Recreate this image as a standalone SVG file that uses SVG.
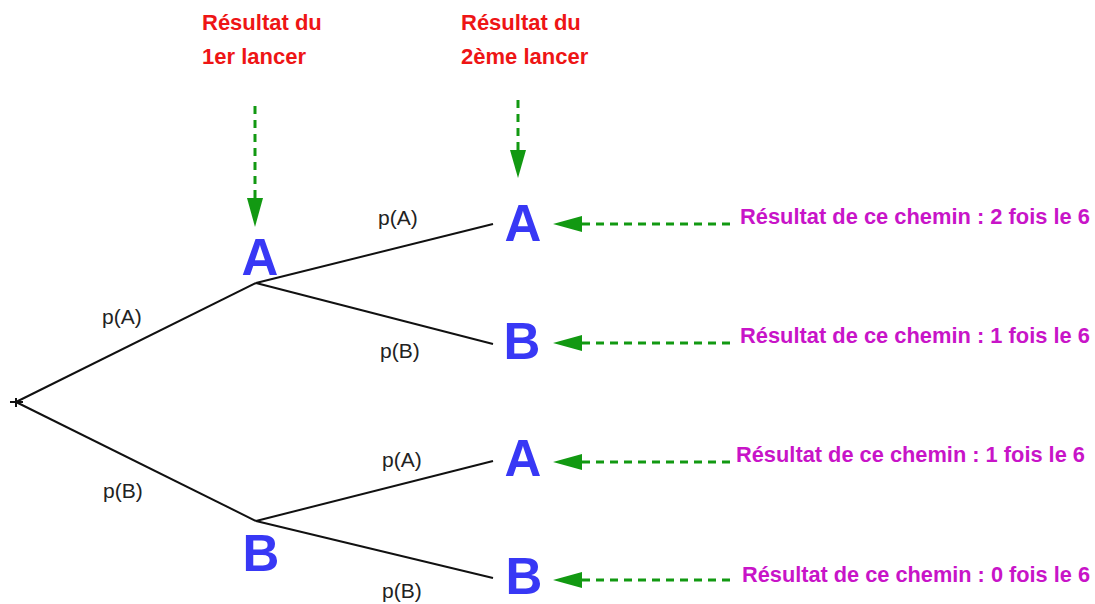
<svg xmlns="http://www.w3.org/2000/svg" width="1095" height="604" viewBox="0 0 1095 604">
<defs>
<style>
.edge{stroke:#111;stroke-width:2;fill:none}
.hint{stroke:#129912;stroke-width:3;stroke-dasharray:8 6;fill:none}
.node{font-family:"Liberation Sans",Arial,sans-serif;font-weight:bold;font-size:51px;fill:#3838f5;text-anchor:middle}
.title{font-family:"Liberation Sans",Arial,sans-serif;font-weight:bold;font-size:22px;fill:#ee1515}
.res{font-family:"Liberation Sans",Arial,sans-serif;font-weight:bold;font-size:21.5px;fill:#c814c8}
.prob{font-family:"Liberation Sans",Arial,sans-serif;font-size:21px;fill:#222}
</style>
</defs>
<rect width="1095" height="604" fill="#fff"/>

<g id="connectors">
<path class="edge" d="M10,402 H23 M16,398 V407"/>
<line class="edge" x1="16" y1="402" x2="256" y2="283"/>
<line class="edge" x1="16" y1="402" x2="256" y2="521"/>
<line class="edge" x1="256" y1="283" x2="493" y2="224"/>
<line class="edge" x1="256" y1="283" x2="493" y2="344"/>
<line class="edge" x1="256" y1="521" x2="493" y2="461"/>
<line class="edge" x1="256" y1="521" x2="493" y2="578"/>
<text class="prob" x="102" y="324">p(A)</text>
<text class="prob" x="103" y="498">p(B)</text>
<text class="prob" x="378" y="225">p(A)</text>
<text class="prob" x="380" y="358">p(B)</text>
<text class="prob" x="382" y="467">p(A)</text>
<text class="prob" x="382" y="598">p(B)</text>
</g>

<g id="hints">
<line class="hint" x1="255" y1="106" x2="255" y2="198"/>
<path d="M247,198 L263,198 L255,227 Z" fill="#129912"/>
<line class="hint" x1="518" y1="100" x2="518" y2="150"/>
<path d="M510,150 L526,150 L518,178 Z" fill="#129912"/>
<line class="hint" x1="730" y1="224" x2="582" y2="224"/>
<path d="M582,216 L582,232 L553,224 Z" fill="#129912"/>
<line class="hint" x1="730" y1="343" x2="582" y2="343"/>
<path d="M582,335 L582,351 L553,343 Z" fill="#129912"/>
<line class="hint" x1="730" y1="462" x2="582" y2="462"/>
<path d="M582,454 L582,470 L553,462 Z" fill="#129912"/>
<line class="hint" x1="730" y1="580" x2="582" y2="580"/>
<path d="M582,572 L582,588 L553,580 Z" fill="#129912"/>
</g>

<g id="title1"><text class="title" x="202" y="30">Résultat du</text><text class="title" x="202" y="64">1er lancer</text></g>
<g id="title2"><text class="title" x="461" y="30">Résultat du</text><text class="title" x="461" y="64">2ème lancer</text></g>

<g id="A1"><text class="node" x="260" y="275">A</text></g>
<g id="B1"><text class="node" x="261" y="571">B</text></g>
<g id="A2"><text class="node" x="523" y="241">A</text></g>
<g id="B2"><text class="node" x="522" y="359">B</text></g>
<g id="A3"><text class="node" x="523" y="476">A</text></g>
<g id="B3"><text class="node" x="524" y="594">B</text></g>

<g id="res1"><text class="res" x="740" y="224" textLength="350" lengthAdjust="spacingAndGlyphs">Résultat de ce chemin : 2 fois le 6</text></g>
<g id="res2"><text class="res" x="740" y="343" textLength="350" lengthAdjust="spacingAndGlyphs">Résultat de ce chemin : 1 fois le 6</text></g>
<g id="res3"><text class="res" x="736" y="462" textLength="349" lengthAdjust="spacingAndGlyphs">Résultat de ce chemin : 1 fois le 6</text></g>
<g id="res4"><text class="res" x="742" y="582" textLength="348" lengthAdjust="spacingAndGlyphs">Résultat de ce chemin : 0 fois le 6</text></g>
</svg>
